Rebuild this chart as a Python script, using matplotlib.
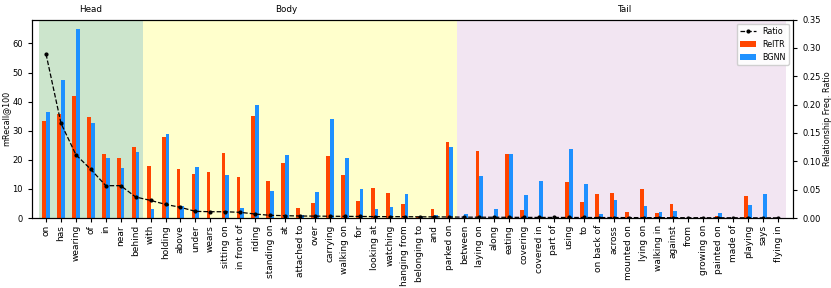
import matplotlib
matplotlib.use("Agg")
import matplotlib.pyplot as plt
import matplotlib.transforms as mtransforms
import numpy as np

categories = ["on", "has", "wearing", "of", "in", "near", "behind",
              "with", "holding", "above", "under", "wears", "sitting on", "in front of",
              "riding", "standing on", "at", "attached to", "over", "carrying", "walking on",
              "for", "looking at", "watching", "hanging from", "belonging to", "and", "parked on",
              "between", "laying on", "along", "eating", "covering", "covered in", "part of",
              "using", "to", "on back of", "across", "mounted on", "lying on", "walking in",
              "against", "from", "growing on", "painted on", "made of", "playing", "says", "flying in"]

reltr = [33.2, 35.7, 42.1, 34.7, 22.1, 20.8, 24.3,
         17.9, 27.7, 16.7, 15.2, 15.7, 22.2, 14.1,
         35.0, 12.6, 18.8, 3.5, 5.2, 21.3, 14.9,
         5.7, 10.4, 8.5, 4.9, 0.4, 3.0, 26.3,
         0.0, 23.0, 0.0, 21.9, 2.9, 0.0, 0.0,
         12.4, 5.5, 8.4, 8.5, 1.9, 10.1, 1.6,
         4.8, 0.0, 0.0, 0.7, 0.0, 7.6, 0.0, 0.0]

bgnn = [36.6, 47.5, 64.9, 32.5, 20.8, 17.1, 22.7,
        3.0, 29.0, 4.2, 17.4, 0.0, 14.7, 3.4,
        38.9, 9.2, 21.5, 0.9, 8.8, 33.9, 20.6,
        10.1, 3.1, 3.7, 8.1, 0.2, 0.9, 24.3,
        1.3, 14.3, 3.0, 21.9, 7.9, 12.7, 0.0,
        23.6, 11.6, 1.3, 6.3, 0.0, 4.0, 2.1,
        2.3, 0.0, 0.0, 1.6, 0.0, 4.5, 8.1, 0.0]

ratio = [0.289, 0.167, 0.1115, 0.0857, 0.057, 0.057, 0.037,
         0.031, 0.024, 0.0188, 0.0117, 0.0111, 0.011, 0.010,
         0.007, 0.0047, 0.0041, 0.0035, 0.0033, 0.0031, 0.0029,
         0.0027, 0.0025, 0.0024, 0.0023, 0.0021, 0.0020, 0.0018,
         0.0015, 0.0014, 0.0013, 0.0012, 0.0011, 0.0010, 0.0010,
         0.0009, 0.0009, 0.0008, 0.0008, 0.0007, 0.0007, 0.0006,
         0.0006, 0.0005, 0.0005, 0.0004, 0.0004, 0.0003, 0.0003, 0.0002]

groups = ["Head", "Body", "Tail"]
group_sizes = [7, 21, 22]
group_colors = [("green", 0.2), ("yellow", 0.2), ("purple", 0.1)]
group_label_x = [3.0, 16.1, 38.7]

fig = plt.figure(figsize=(8.31, 2.88), dpi=100)
ax = fig.add_axes([32 / 831, 1 - 218 / 288, (793 - 32) / 831, (218 - 19.5) / 288])

x = np.arange(len(categories))
w = 0.25

start = -0.5
for g, n, (c, a), lx in zip(groups, group_sizes, group_colors, group_label_x):
    ax.axvspan(start, start + n, color=c, alpha=a, lw=0, zorder=0)
    trans = mtransforms.blended_transform_factory(ax.transData, ax.transAxes)
    ax.text(lx, 1.048, g, transform=trans, ha="center", va="center", fontsize=6.3)
    start += n

ax.bar(x - w / 2, reltr, width=w, color="orangered", label="RelTR", zorder=2)
ax.bar(x + w / 2, bgnn, width=w, color="dodgerblue", label="BGNN", zorder=2)

ax.set_xlim(-0.94, 50.0)
ax.set_ylim(0, 68.25)
ax.set_yticks([0, 10, 20, 30, 40, 50, 60])
ax.set_xticks(x)
ax.set_xticklabels(categories, rotation=90, fontsize=6.5)
ax.tick_params(axis="y", labelsize=6, length=3)
ax.tick_params(axis="x", length=3, pad=2)
ax.set_ylabel("mRecall@100", fontsize=5.8)
ax.yaxis.set_label_coords(-0.029, 0.5)

ax2 = ax.twinx()
ax2.plot(x, ratio, color="black", linestyle="--", marker=".", markersize=4, linewidth=0.9, label="Ratio")
ax2.set_ylim(0, 0.35)
ax2.set_yticks([0, 0.05, 0.10, 0.15, 0.20, 0.25, 0.30, 0.35])
ax2.set_yticklabels(["%.2f" % v for v in [0, 0.05, 0.10, 0.15, 0.20, 0.25, 0.30, 0.35]])
ax2.tick_params(axis="y", labelsize=6, length=3)
ax2.set_ylabel("Relationship Freq. Ratio", fontsize=5.8)
ax2.yaxis.set_label_coords(1.04, 0.5)

h1, l1 = ax2.get_legend_handles_labels()
h2, l2 = ax.get_legend_handles_labels()
ax2.legend(h1 + h2, l1 + l2, loc="upper right", fontsize=5.8, framealpha=0.9)

fig.savefig("out.png", dpi=100)
